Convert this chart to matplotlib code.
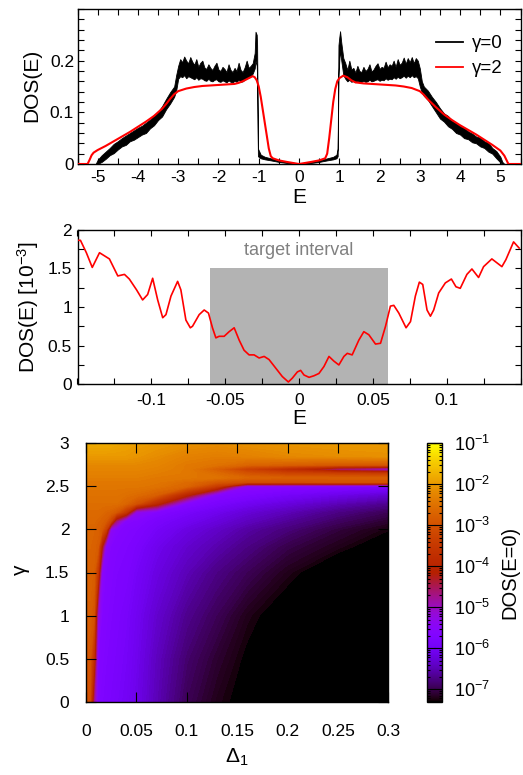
import numpy as np
import matplotlib
matplotlib.use('Agg')
import matplotlib.pyplot as plt
from matplotlib.colors import LogNorm
from matplotlib.cm import ScalarMappable
from matplotlib.ticker import FixedLocator, MultipleLocator, FuncFormatter, LogFormatterSciNotation, NullFormatter

plt.rcParams['font.family'] = ['Liberation Sans', 'DejaVu Sans']
plt.rcParams['mathtext.fontset'] = 'custom'
plt.rcParams['mathtext.rm'] = 'Liberation Sans'
plt.rcParams['mathtext.it'] = 'Liberation Sans:italic'
plt.rcParams['mathtext.bf'] = 'Liberation Sans:bold'
plt.rcParams['axes.unicode_minus'] = False

# ---------------- top panel data: DOS(E) ----------------
# gamma = 0 (noisy curve): energies with lower / upper envelope of the noise band
E_g0 = [-5.5, -5.05, -5.0, -4.9, -4.8, -4.7, -4.6, -4.5, -4.4, -4.3, -4.2, -4.1, -4.0,
        -3.9, -3.8, -3.7, -3.6, -3.5, -3.4, -3.3, -3.2, -3.1, -3.05,
        -3.0, -2.95, -2.9, -2.85, -2.8, -2.75, -2.7, -2.65, -2.6, -2.55, -2.5, -2.45,
        -2.4, -2.35, -2.3, -2.25, -2.2, -2.15, -2.1, -2.05, -2.0, -1.95, -1.9, -1.85,
        -1.8, -1.75, -1.7, -1.65, -1.6, -1.55, -1.5, -1.45, -1.4, -1.35, -1.3, -1.25,
        -1.2, -1.15, -1.1, -1.08, -1.05, -1.04, -1.02, -0.95, -0.85, -0.7, -0.5, -0.3,
        -0.1, 0.0, 0.1, 0.3, 0.5, 0.7, 0.85, 0.93, 0.96, 0.98, 1.0, 1.02, 1.05, 1.1,
        1.15, 1.2, 1.25, 1.3, 1.35, 1.4, 1.45, 1.5, 1.55, 1.6, 1.65, 1.7, 1.75, 1.8,
        1.85, 1.9, 1.95, 2.0, 2.05, 2.1, 2.15, 2.2, 2.25, 2.3, 2.35, 2.4, 2.45, 2.5,
        2.55, 2.6, 2.65, 2.7, 2.75, 2.8, 2.85, 2.9, 2.95, 3.0, 3.05, 3.1, 3.2, 3.3,
        3.4, 3.5, 3.6, 3.7, 3.8, 3.9, 4.0, 4.1, 4.2, 4.3, 4.4, 4.5, 4.6, 4.7, 4.8,
        4.9, 5.0, 5.05, 5.1, 5.5]
lo_g0 = [0, 0, 0.0, 0.004, 0.01, 0.017, 0.021, 0.028, 0.034, 0.037, 0.044, 0.047, 0.052,
         0.057, 0.06, 0.069, 0.075, 0.085, 0.092, 0.106, 0.117, 0.13, 0.142,
         0.165, 0.17, 0.168, 0.172, 0.166, 0.17, 0.168, 0.166, 0.164, 0.168, 0.163, 0.166,
         0.165, 0.162, 0.161, 0.165, 0.161, 0.16, 0.163, 0.164, 0.16, 0.159, 0.162, 0.16,
         0.158, 0.162, 0.159, 0.158, 0.161, 0.159, 0.163, 0.159, 0.16, 0.163, 0.166, 0.167,
         0.17, 0.175, 0.185, 0.2, 0.19, 0.17, 0.015, 0.011, 0.009, 0.007, 0.004, 0.002,
         0.0, 0.0, 0.0, 0.002, 0.004, 0.007, 0.009, 0.011, 0.015, 0.17, 0.2, 0.22, 0.2, 0.172,
         0.165, 0.16, 0.163, 0.159, 0.161, 0.158, 0.161, 0.158, 0.159, 0.161, 0.159, 0.16, 0.163, 0.16,
         0.161, 0.163, 0.164, 0.161, 0.163, 0.162, 0.166, 0.163, 0.165, 0.164, 0.168, 0.165, 0.169, 0.166,
         0.168, 0.171, 0.167, 0.171, 0.168, 0.172, 0.168, 0.17, 0.166, 0.15, 0.138, 0.132, 0.124, 0.112,
         0.1, 0.088, 0.082, 0.073, 0.068, 0.06, 0.057, 0.05, 0.048, 0.042, 0.04, 0.034, 0.031, 0.024, 0.02,
         0.011, 0.003, 0.0, 0, 0]
hi_g0 = [0, 0, 0.008, 0.017, 0.024, 0.031, 0.039, 0.044, 0.05, 0.055, 0.06, 0.065, 0.07,
         0.074, 0.08, 0.086, 0.095, 0.101, 0.112, 0.126, 0.139, 0.15, 0.172,
         0.19, 0.203, 0.197, 0.208, 0.2, 0.195, 0.207, 0.198, 0.192, 0.203, 0.188, 0.196,
         0.2, 0.187, 0.184, 0.193, 0.186, 0.182, 0.19, 0.196, 0.183, 0.18, 0.188, 0.184,
         0.178, 0.193, 0.182, 0.178, 0.186, 0.18, 0.196, 0.182, 0.178, 0.187, 0.2, 0.186,
         0.19, 0.195, 0.215, 0.256, 0.25, 0.23, 0.03, 0.018, 0.014, 0.011, 0.007, 0.004,
         0.002, 0.001, 0.002, 0.004, 0.007, 0.011, 0.014, 0.018, 0.03, 0.23, 0.245, 0.257, 0.235, 0.205,
         0.195, 0.182, 0.2, 0.183, 0.186, 0.177, 0.19, 0.18, 0.178, 0.188, 0.18, 0.184, 0.193, 0.179,
         0.183, 0.19, 0.195, 0.184, 0.188, 0.186, 0.198, 0.187, 0.193, 0.19, 0.2, 0.188, 0.203, 0.192,
         0.196, 0.206, 0.194, 0.205, 0.197, 0.207, 0.195, 0.205, 0.2, 0.185, 0.16, 0.15, 0.142, 0.13,
         0.12, 0.108, 0.098, 0.093, 0.084, 0.08, 0.073, 0.07, 0.063, 0.059, 0.053, 0.051, 0.044, 0.041, 0.031,
         0.025, 0.014, 0.004, 0, 0]

# gamma = 2 (smooth red curve)
E_g2 = [-5.5, -5.25, -5.2, -5.15, -5.1, -5.0, -4.8, -4.6, -4.4, -4.2, -4.0, -3.8, -3.6,
        -3.4, -3.3, -3.2, -3.1, -3.0, -2.8, -2.6, -2.4, -2.2, -2.0, -1.8, -1.6, -1.5,
        -1.4, -1.3, -1.2, -1.15, -1.1, -1.05, -1.0, -0.95, -0.9, -0.85, -0.8, -0.75,
        -0.7, -0.65, -0.5, -0.3, -0.15, 0.0, 0.15, 0.3, 0.5, 0.65, 0.7, 0.75, 0.8,
        0.85, 0.9, 0.95, 1.0, 1.1, 1.2, 1.3, 1.4, 1.6, 1.8, 2.0, 2.2, 2.4, 2.6, 2.8,
        3.0, 3.1, 3.2, 3.4, 3.6, 3.8, 4.0, 4.2, 4.4, 4.6, 4.8, 5.0, 5.1, 5.15, 5.2, 5.5]
dos_g2 = [0, 0, 0.008, 0.017, 0.022, 0.027, 0.035, 0.044, 0.053, 0.062, 0.072, 0.082, 0.093,
          0.107, 0.116, 0.126, 0.135, 0.141, 0.146, 0.149, 0.151, 0.152, 0.153, 0.154, 0.155, 0.157,
          0.16, 0.164, 0.168, 0.17, 0.168, 0.162, 0.15, 0.13, 0.105, 0.08, 0.055, 0.03,
          0.015, 0.011, 0.007, 0.004, 0.002, 0.0, 0.002, 0.004, 0.007, 0.011, 0.02, 0.05, 0.085,
          0.12, 0.145, 0.16, 0.166, 0.171, 0.168, 0.162, 0.158, 0.156, 0.155, 0.154, 0.153, 0.152, 0.15, 0.147,
          0.141, 0.134, 0.125, 0.11, 0.096, 0.085, 0.075, 0.066, 0.057, 0.047, 0.037, 0.026, 0.016, 0.008, 0.0, 0]

# ---------------- middle panel data: zoom near E=0 (units of 1e-3) ----------------
E_zoom = [-0.150, -0.148, -0.144, -0.140, -0.1351, -0.1284, -0.1227, -0.1182, -0.1149, -0.110,
          -0.1059, -0.1025, -0.0991, -0.0957, -0.0923, -0.0901, -0.0867, -0.0822, -0.0800,
          -0.0766, -0.0736, -0.0721, -0.0676, -0.0642, -0.0613, -0.0586, -0.0563, -0.0541,
          -0.0507, -0.0473, -0.0439, -0.0405, -0.0372, -0.0338, -0.0304, -0.0270, -0.0236,
          -0.0203, -0.0158, -0.0113, -0.0072, -0.0045, -0.0011, 0.0011, 0.0034, 0.0068,
          0.0101, 0.0135, 0.0169, 0.0203, 0.0236, 0.0270, 0.0304, 0.0327, 0.0360, 0.0405,
          0.0439, 0.0473, 0.0518, 0.0552, 0.0586, 0.0619, 0.0642, 0.0676, 0.0725, 0.0755,
          0.0788, 0.0815, 0.0838, 0.0867, 0.0890, 0.0912, 0.0946, 0.0991, 0.1032, 0.1063,
          0.1092, 0.1137, 0.1171, 0.1216, 0.1250, 0.1306, 0.1374, 0.1401, 0.1453, 0.1491]
dos_zoom = [1.86, 1.86, 1.70, 1.51, 1.70, 1.62, 1.40, 1.42, 1.36, 1.22,
            1.09, 1.16, 1.37, 1.09, 0.86, 0.90, 1.14, 1.33, 1.22,
            0.83, 0.73, 0.75, 0.90, 0.96, 0.92, 0.73, 0.60, 0.62,
            0.62, 0.68, 0.73, 0.57, 0.44, 0.38, 0.38, 0.34, 0.36,
            0.32, 0.21, 0.10, 0.03, 0.08, 0.16, 0.18, 0.12, 0.09,
            0.11, 0.14, 0.23, 0.36, 0.30, 0.25, 0.36, 0.40, 0.38, 0.57,
            0.68, 0.64, 0.52, 0.53, 0.75, 1.01, 1.02, 0.92, 0.73, 0.81,
            1.14, 1.32, 1.29, 0.96, 0.88, 0.96, 1.18, 1.31, 1.36, 1.26,
            1.24, 1.42, 1.49, 1.38, 1.52, 1.62, 1.52, 1.61, 1.84, 1.76]
target_E = [-0.06, 0.06]
target_top = 1.5

# ---------------- bottom panel data: log10 DOS(E=0) on (Delta_1, gamma) ----------------
delta1 = [0, 0.004, 0.008, 0.012, 0.016, 0.02, 0.025, 0.03, 0.04, 0.05, 0.07, 0.1, 0.13, 0.16, 0.2, 0.25, 0.3]
gamma = [0, 0.5, 1.0, 1.5, 1.8, 2.0, 2.1, 2.2, 2.3, 2.4, 2.5, 2.55, 2.6, 2.65, 2.7, 2.75, 2.85, 3.0]
log_dos0 = [
    [-3.0, -3.1, -4.8, -5.7, -5.75, -5.8, -5.85, -5.9, -6.0, -6.15, -6.5, -6.95, -7.2, -7.35, -7.7, -8.0, -8.0],
    [-2.9, -2.95, -3.8, -5.65, -5.7, -5.75, -5.8, -5.85, -5.95, -6.1, -6.45, -6.85, -7.1, -7.3, -7.6, -8.0, -8.0],
    [-2.8, -2.8, -3.0, -5.2, -5.65, -5.7, -5.75, -5.8, -5.9, -6.05, -6.35, -6.7, -6.95, -7.2, -7.4, -7.8, -8.0],
    [-2.75, -2.75, -2.8, -3.6, -5.5, -5.65, -5.7, -5.75, -5.8, -5.95, -6.2, -6.5, -6.75, -6.95, -7.2, -7.45, -7.7],
    [-2.7, -2.7, -2.75, -2.85, -4.2, -5.5, -5.65, -5.7, -5.75, -5.85, -6.1, -6.35, -6.55, -6.75, -7.0, -7.2, -7.4],
    [-2.7, -2.7, -2.7, -2.75, -2.9, -3.4, -5.4, -5.6, -5.7, -5.75, -5.95, -6.2, -6.4, -6.6, -6.8, -7.05, -7.25],
    [-2.65, -2.65, -2.65, -2.7, -2.75, -2.85, -3.3, -4.6, -5.6, -5.65, -5.85, -6.05, -6.25, -6.45, -6.65, -6.9, -7.1],
    [-2.6, -2.6, -2.6, -2.6, -2.65, -2.7, -2.75, -2.9, -3.6, -5.3, -5.65, -5.9, -6.1, -6.3, -6.5, -6.75, -6.95],
    [-2.55, -2.55, -2.55, -2.55, -2.55, -2.55, -2.55, -2.55, -2.7, -3.0, -3.9, -5.6, -5.85, -6.05, -6.25, -6.5, -6.7],
    [-2.5, -2.5, -2.5, -2.5, -2.5, -2.5, -2.5, -2.5, -2.55, -2.6, -2.8, -4.0, -5.6, -5.75, -5.95, -6.15, -6.35],
    [-2.45, -2.45, -2.45, -2.45, -2.45, -2.45, -2.45, -2.45, -2.45, -2.45, -2.5, -2.7, -3.5, -5.5, -5.6, -5.7, -5.8],
    [-2.4, -2.4, -2.4, -2.4, -2.4, -2.4, -2.4, -2.4, -2.4, -2.4, -2.45, -2.6, -2.9, -3.1, -3.1, -3.0, -3.0],
    [-2.35, -2.35, -2.35, -2.35, -2.35, -2.35, -2.35, -2.35, -2.35, -2.35, -2.4, -2.45, -2.5, -2.7, -2.8, -2.8, -2.8],
    [-2.3, -2.3, -2.3, -2.3, -2.3, -2.3, -2.3, -2.3, -2.3, -2.3, -2.35, -2.4, -2.6, -3.0, -3.3, -3.4, -3.5],
    [-2.25, -2.25, -2.25, -2.25, -2.25, -2.25, -2.25, -2.25, -2.25, -2.25, -2.3, -2.4, -2.8, -3.4, -3.9, -4.8, -5.3],
    [-2.2, -2.2, -2.2, -2.2, -2.2, -2.2, -2.2, -2.2, -2.2, -2.2, -2.25, -2.4, -2.5, -2.7, -2.8, -2.9, -2.9],
    [-2.0, -2.0, -2.0, -2.0, -2.0, -2.0, -2.0, -2.0, -2.0, -2.05, -2.15, -2.3, -2.35, -2.3, -2.2, -2.15, -2.1],
    [-1.8, -1.8, -1.8, -1.8, -1.8, -1.8, -1.82, -1.85, -1.9, -1.95, -2.0, -2.1, -2.15, -2.1, -2.05, -2.0, -2.0],
]
cb_min, cb_max = 10 ** -7.3, 1e-1
cb_ticks = [1e-7, 1e-6, 1e-5, 1e-4, 1e-3, 1e-2, 1e-1]

# ---------------- figure ----------------
W, H = 523, 775
fig = plt.figure(figsize=(W / 100, H / 100), dpi=100)

def px_axes(l, t, r, b):
    return fig.add_axes([l / W, 1 - b / H, (r - l) / W, (b - t) / H])

ax1 = px_axes(77.5, 9, 520.5, 164)
ax2 = px_axes(77.5, 229.5, 520.5, 384.3)
ax3 = px_axes(86, 443.3, 388.3, 701.7)
cax = px_axes(426.7, 443.3, 441.7, 701.7)

TICK_FS = 12.5
LAB_FS = 15
fmt_g = FuncFormatter(lambda v, p: '%g' % round(v, 6))

def style(ax, major_len=4.5, minor_len=4.5, padx=5, pady=3):
    for s in ax.spines.values():
        s.set_linewidth(1.0)
    ax.tick_params(which='both', direction='in', top=True, right=True, width=0.8)
    ax.tick_params(which='major', length=major_len)
    ax.tick_params(which='minor', length=minor_len)
    ax.tick_params(axis='x', labelsize=TICK_FS, pad=padx)
    ax.tick_params(axis='y', labelsize=TICK_FS, pad=pady)
    ax.xaxis.set_major_formatter(fmt_g)
    ax.yaxis.set_major_formatter(fmt_g)

# ---- top panel
ax1.fill_between(E_g0, lo_g0, hi_g0, facecolor='black', edgecolor='black', lw=0.6, zorder=2)
ax1.plot(E_g2, dos_g2, color='red', lw=1.5, zorder=3)
ax1.plot([], [], color='black', lw=1.3, label='γ=0')
ax1.plot([], [], color='red', lw=1.3, label='γ=2')
ax1.set_xlim(-5.5, 5.5)
ax1.set_ylim(0, 0.3)
ax1.xaxis.set_major_locator(MultipleLocator(1))
ax1.xaxis.set_minor_locator(MultipleLocator(0.5))
ax1.yaxis.set_major_locator(FixedLocator([0, 0.1, 0.2]))
ax1.yaxis.set_minor_locator(MultipleLocator(0.02))
style(ax1, padx=4, pady=2.5)
ax1.set_xlabel('E', fontsize=LAB_FS)
ax1.set_ylabel('DOS(E)', fontsize=LAB_FS)
ax1.xaxis.set_label_coords(0.5, -0.215)
ax1.xaxis.label.set_va('center')
ax1.yaxis.set_label_coords(-0.103, 0.506)
ax1.yaxis.label.set_va('center')
ax1.legend(loc='upper right', bbox_to_anchor=(0.96, 0.83), frameon=False,
           fontsize=TICK_FS + 1, handlelength=1.4, handletextpad=0.5,
           labelspacing=0.4, borderpad=0, borderaxespad=0)

# ---- middle panel
ax2.bar([(target_E[0] + target_E[1]) / 2], [target_top], width=target_E[1] - target_E[0],
        color='#b3b3b3', zorder=1)
ax2.text(0.0, 1.73, 'target interval', color='#808080', fontsize=TICK_FS + 0.5,
         ha='center', va='center')
ax2.plot(E_zoom, dos_zoom, color='red', lw=1.2, zorder=3)
ax2.set_xlim(-0.15, 0.15)
ax2.set_ylim(0, 2)
ax2.xaxis.set_major_locator(FixedLocator([-0.1, -0.05, 0, 0.05, 0.1]))
ax2.xaxis.set_minor_locator(MultipleLocator(0.025))
ax2.yaxis.set_major_locator(MultipleLocator(0.5))
ax2.yaxis.set_minor_locator(MultipleLocator(0.25))
style(ax2, padx=6, pady=4)
ax2.set_xlabel('E', fontsize=LAB_FS)
ax2.set_ylabel(r'DOS(E) [10$^{\mathregular{-3}}$]', fontsize=LAB_FS)
ax2.xaxis.set_label_coords(0.5, -0.218)
ax2.xaxis.label.set_va('center')
ax2.yaxis.set_label_coords(-0.112, 0.50)
ax2.yaxis.label.set_va('center')

# ---- bottom heat map
Dg, Gg = np.meshgrid(delta1, gamma)
Z = np.array(log_dos0)
levels = np.linspace(np.log10(cb_min), np.log10(cb_max), 160)
ax3.contourf(Dg, Gg, Z, levels=levels, cmap='gnuplot', extend='both', zorder=1)
ax3.set_xlim(0, 0.3)
ax3.set_ylim(0, 3)
ax3.xaxis.set_major_locator(MultipleLocator(0.05))
ax3.yaxis.set_major_locator(MultipleLocator(0.5))
style(ax3, major_len=7, padx=16, pady=12)
for s in ax3.spines.values():
    s.set_zorder(5)
ax3.set_axisbelow(False)
ax3.set_xlabel(r'$\mathregular{\Delta_1}$', fontsize=LAB_FS)
ax3.set_ylabel('γ', fontsize=LAB_FS)
ax3.xaxis.set_label_coords(0.5, -0.215)
ax3.xaxis.label.set_va('center')
ax3.yaxis.set_label_coords(-0.218, 0.51)
ax3.yaxis.label.set_va('center')

# ---- colorbar
sm = ScalarMappable(norm=LogNorm(cb_min, cb_max), cmap='gnuplot')
cb = fig.colorbar(sm, cax=cax)
cb.outline.set_linewidth(1.0)
cax.yaxis.set_major_locator(FixedLocator(cb_ticks))
cax.yaxis.set_major_formatter(LogFormatterSciNotation())
minor_ticks = [m * 10.0 ** k for k in range(-8, -1) for m in range(2, 10)
               if cb_min <= m * 10.0 ** k <= cb_max]
cax.yaxis.set_minor_locator(FixedLocator(minor_ticks))
cax.yaxis.set_minor_formatter(NullFormatter())
cax.tick_params(which='both', direction='in', left=True, right=True, color='black', width=0.8)
cax.tick_params(which='major', length=5.5, labelsize=TICK_FS + 0.5, pad=9,
                labelleft=False, labelright=True)
cax.tick_params(which='minor', length=2.5)
cb.set_label('DOS(E=0)', fontsize=LAB_FS - 0.5)
cax.yaxis.set_label_coords(5.55, 0.5)
cax.yaxis.label.set_va('center')
cax.yaxis.label.set_rotation(90)

fig.savefig('out.png', dpi=100)
